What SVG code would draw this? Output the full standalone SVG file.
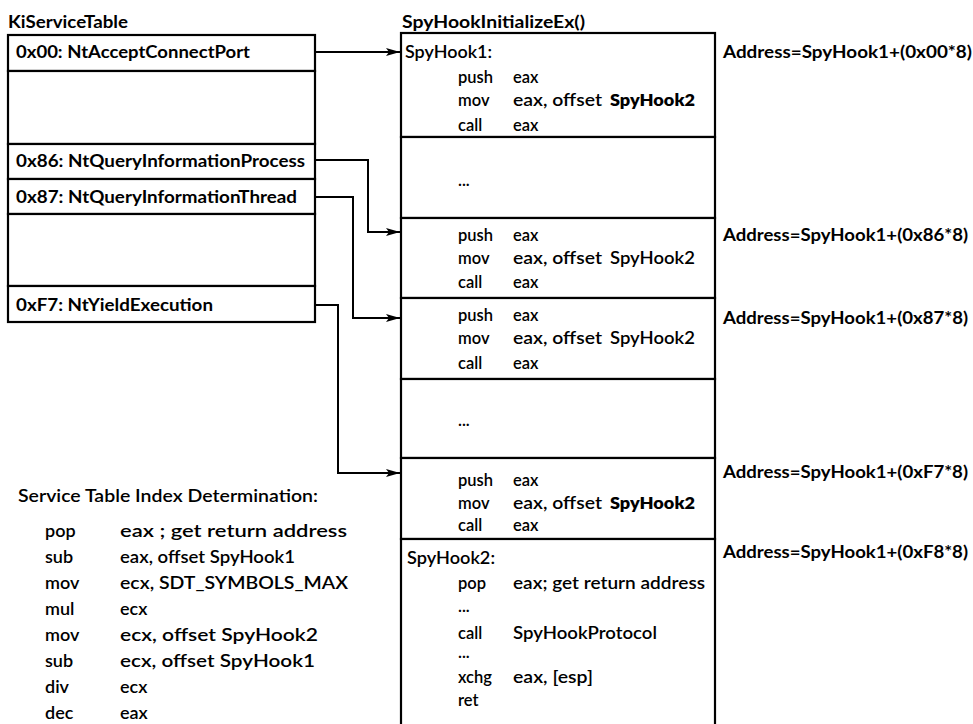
<svg xmlns="http://www.w3.org/2000/svg" width="973" height="724" viewBox="0 0 973 724">
  <style>
    text { font-family: Lato, "Open Sans", "Liberation Sans", sans-serif; fill: #000; }
    .title { font-size: 16.5px; font-weight: 700; }
    .entry { font-size: 16.5px; font-weight: 700; }
    .code { font-size: 16.5px; font-weight: 600; }
    .codeb { font-size: 16.5px; font-weight: 800; }
    .addr { font-size: 16.5px; font-weight: 700; }
    .algo { font-size: 18px; font-weight: 600; }
    .cell { fill: #fff; stroke: #000; stroke-width: 2.2; }
    .conn { fill: none; stroke: #000; stroke-width: 2; }
  </style>
  <defs>
    <marker id="arrow" markerUnits="userSpaceOnUse" markerWidth="15" markerHeight="9" refX="14" refY="4" orient="auto">
      <path d="M0,0 L14,4 L0,8 L3,4 z" fill="#000"/>
    </marker>
  </defs>

  <rect width="973" height="724" fill="#fff"/>

  <!-- service table -->
  <g id="ki-service-table">
    <text class="title" x="8" y="28" textLength="120" lengthAdjust="spacingAndGlyphs">KiServiceTable</text>
    <g id="entry-00">
      <rect class="cell" x="8" y="35" width="307" height="36"/>
      <text class="entry" x="16" y="58" textLength="234" lengthAdjust="spacingAndGlyphs">0x00: NtAcceptConnectPort</text>
    </g>
    <g id="entry-gap-1">
      <rect class="cell" x="8" y="71" width="307" height="73"/>
    </g>
    <g id="entry-86">
      <rect class="cell" x="8" y="144" width="307" height="35"/>
      <text class="entry" x="16" y="167" textLength="289" lengthAdjust="spacingAndGlyphs">0x86: NtQueryInformationProcess</text>
    </g>
    <g id="entry-87">
      <rect class="cell" x="8" y="179" width="307" height="35"/>
      <text class="entry" x="16" y="203" textLength="281" lengthAdjust="spacingAndGlyphs">0x87: NtQueryInformationThread</text>
    </g>
    <g id="entry-gap-2">
      <rect class="cell" x="8" y="214" width="307" height="72"/>
    </g>
    <g id="entry-f7">
      <rect class="cell" x="8" y="286" width="307" height="36"/>
      <text class="entry" x="16" y="311" textLength="197" lengthAdjust="spacingAndGlyphs">0xF7: NtYieldExecution</text>
    </g>
  </g>

  <!-- hook stubs -->
  <g id="spyhook-initialize">
    <text class="title" x="402" y="28" textLength="183" lengthAdjust="spacingAndGlyphs">SpyHookInitializeEx()</text>

    <g id="stub-00">
      <rect class="cell" x="401" y="33" width="314" height="104"/>
      <text class="code" x="405" y="58" textLength="87" lengthAdjust="spacingAndGlyphs">SpyHook1:</text>
      <text class="code" x="458" y="83">push</text>
      <text class="code" x="513" y="83">eax</text>
      <text class="code" x="458" y="106">mov</text>
      <text class="code" x="513" y="106" textLength="89" lengthAdjust="spacingAndGlyphs">eax, offset</text>
      <text class="codeb" x="610" y="106" textLength="85" lengthAdjust="spacingAndGlyphs">SpyHook2</text>
      <text class="code" x="458" y="131">call</text>
      <text class="code" x="513" y="131">eax</text>
    </g>

    <g id="stub-gap-1">
      <rect class="cell" x="401" y="137" width="314" height="81"/>
      <text class="code" x="458" y="186">...</text>
    </g>

    <g id="stub-86">
      <rect class="cell" x="401" y="218" width="314" height="80"/>
      <text class="code" x="458" y="241">push</text>
      <text class="code" x="513" y="241">eax</text>
      <text class="code" x="458" y="264">mov</text>
      <text class="code" x="513" y="264" textLength="89" lengthAdjust="spacingAndGlyphs">eax, offset</text>
      <text class="code" x="610" y="264" textLength="85" lengthAdjust="spacingAndGlyphs">SpyHook2</text>
      <text class="code" x="458" y="288">call</text>
      <text class="code" x="513" y="288">eax</text>
    </g>

    <g id="stub-87">
      <rect class="cell" x="401" y="298" width="314" height="81"/>
      <text class="code" x="458" y="321">push</text>
      <text class="code" x="513" y="321">eax</text>
      <text class="code" x="458" y="344">mov</text>
      <text class="code" x="513" y="344" textLength="89" lengthAdjust="spacingAndGlyphs">eax, offset</text>
      <text class="code" x="610" y="344" textLength="85" lengthAdjust="spacingAndGlyphs">SpyHook2</text>
      <text class="code" x="458" y="369">call</text>
      <text class="code" x="513" y="369">eax</text>
    </g>

    <g id="stub-gap-2">
      <rect class="cell" x="401" y="379" width="314" height="79"/>
      <text class="code" x="458" y="426">...</text>
    </g>

    <g id="stub-f7">
      <rect class="cell" x="401" y="458" width="314" height="81"/>
      <text class="code" x="458" y="486">push</text>
      <text class="code" x="513" y="486">eax</text>
      <text class="code" x="458" y="509">mov</text>
      <text class="code" x="513" y="509" textLength="89" lengthAdjust="spacingAndGlyphs">eax, offset</text>
      <text class="codeb" x="610" y="509" textLength="85" lengthAdjust="spacingAndGlyphs">SpyHook2</text>
      <text class="code" x="458" y="531">call</text>
      <text class="code" x="513" y="531">eax</text>
    </g>

    <g id="spyhook2">
      <rect class="cell" x="401" y="539" width="314" height="200"/>
      <text class="code" x="407" y="564" textLength="88" lengthAdjust="spacingAndGlyphs">SpyHook2:</text>
      <text class="code" x="458" y="589">pop</text>
      <text class="code" x="513" y="589" textLength="192" lengthAdjust="spacingAndGlyphs">eax; get return address</text>
      <text class="code" x="458" y="612">...</text>
      <text class="code" x="458" y="639">call</text>
      <text class="code" x="513" y="639" textLength="144" lengthAdjust="spacingAndGlyphs">SpyHookProtocol</text>
      <text class="code" x="458" y="658">...</text>
      <text class="code" x="458" y="683">xchg</text>
      <text class="code" x="513" y="683" textLength="80" lengthAdjust="spacingAndGlyphs">eax, [esp]</text>
      <text class="code" x="458" y="706">ret</text>
    </g>
  </g>

  <!-- stub address annotations -->
  <g id="addresses">
    <text class="addr" x="723" y="58" textLength="249" lengthAdjust="spacingAndGlyphs">Address=SpyHook1+(0x00*8)</text>
    <text class="addr" x="723" y="241" textLength="245" lengthAdjust="spacingAndGlyphs">Address=SpyHook1+(0x86*8)</text>
    <text class="addr" x="723" y="324" textLength="245" lengthAdjust="spacingAndGlyphs">Address=SpyHook1+(0x87*8)</text>
    <text class="addr" x="723" y="478" textLength="245" lengthAdjust="spacingAndGlyphs">Address=SpyHook1+(0xF7*8)</text>
    <text class="addr" x="723" y="558" textLength="245" lengthAdjust="spacingAndGlyphs">Address=SpyHook1+(0xF8*8)</text>
  </g>

  <!-- index computation listing -->
  <g id="index-determination">
    <text class="algo" x="18" y="502" font-size="19" textLength="300" lengthAdjust="spacingAndGlyphs">Service Table Index Determination:</text>
    <text class="algo" x="45" y="537">pop</text>
    <text class="algo" x="120" y="537" textLength="227" lengthAdjust="spacingAndGlyphs">eax ; get return address</text>
    <text class="algo" x="45" y="563">sub</text>
    <text class="algo" x="120" y="563" textLength="175" lengthAdjust="spacingAndGlyphs">eax, offset SpyHook1</text>
    <text class="algo" x="45" y="589">mov</text>
    <text class="algo" x="120" y="589" textLength="228" lengthAdjust="spacingAndGlyphs">ecx, SDT_SYMBOLS_MAX</text>
    <text class="algo" x="45" y="615">mul</text>
    <text class="algo" x="120" y="615">ecx</text>
    <text class="algo" x="45" y="641">mov</text>
    <text class="algo" x="120" y="641" textLength="198" lengthAdjust="spacingAndGlyphs">ecx, offset SpyHook2</text>
    <text class="algo" x="45" y="667">sub</text>
    <text class="algo" x="120" y="667" textLength="195" lengthAdjust="spacingAndGlyphs">ecx, offset SpyHook1</text>
    <text class="algo" x="45" y="693">div</text>
    <text class="algo" x="120" y="693">ecx</text>
    <text class="algo" x="45" y="719">dec</text>
    <text class="algo" x="120" y="719">eax</text>
  </g>

  <!-- table entries pointing at their stubs -->
  <g id="connectors">
    <path class="conn" d="M315,52 H400" marker-end="url(#arrow)"/>
    <path class="conn" d="M315,160 H368 V232 H400" marker-end="url(#arrow)"/>
    <path class="conn" d="M315,197 H353 V318 H400" marker-end="url(#arrow)"/>
    <path class="conn" d="M315,305 H338 V473 H400" marker-end="url(#arrow)"/>
  </g>
</svg>
